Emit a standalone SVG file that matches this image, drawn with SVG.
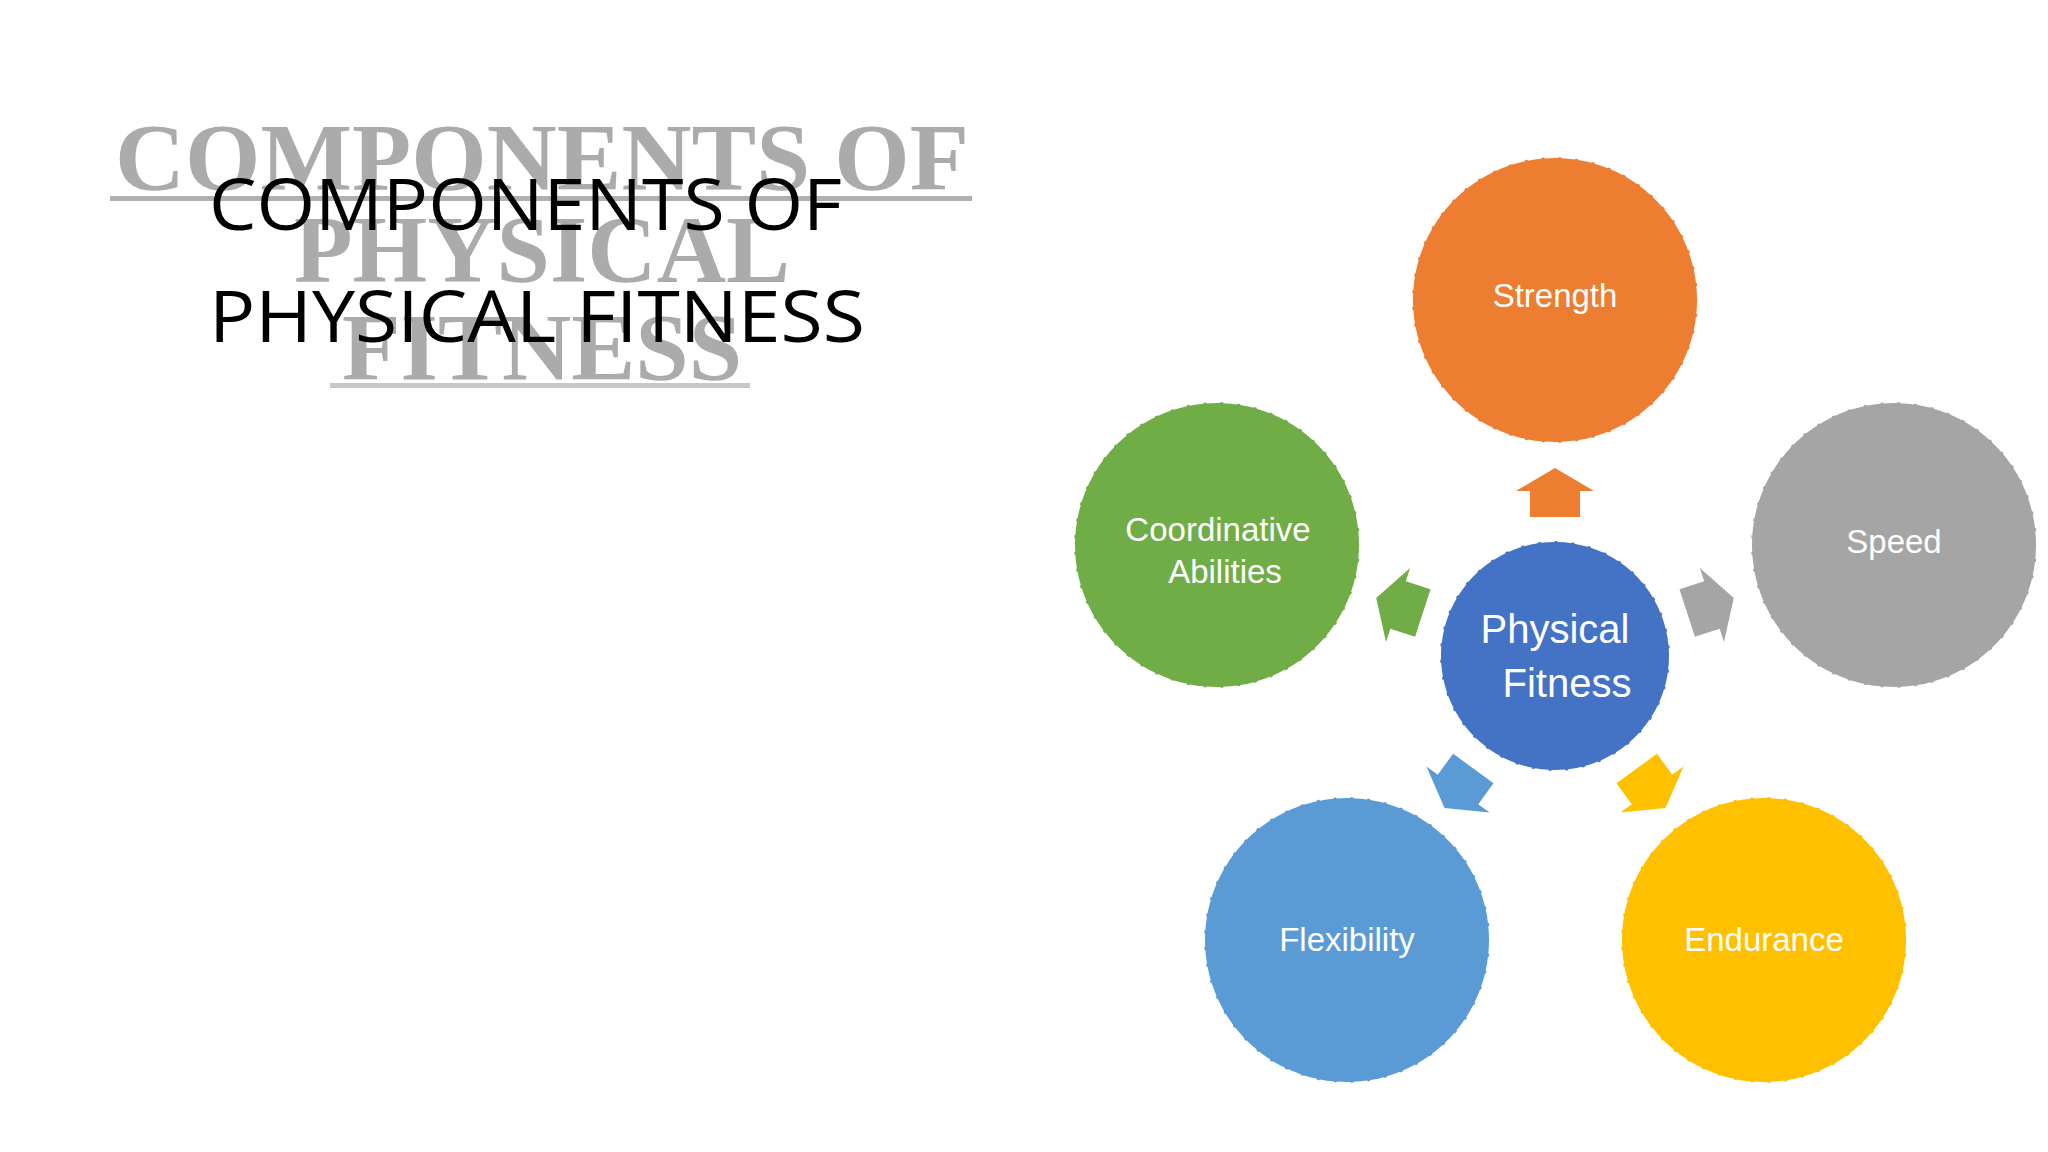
<svg xmlns="http://www.w3.org/2000/svg" xmlns:xlink="http://www.w3.org/1999/xlink" width="2048" height="1152" viewBox="0 0 2048 1152">
<style>
.c{stroke:#ffffff;stroke-width:2;stroke-dasharray:14 3}
.l{font-family:"Liberation Sans",Arial,sans-serif;font-size:33px;fill:#fff;text-anchor:middle}
.bg{font-family:"Liberation Serif","Times New Roman",serif;font-weight:bold;font-size:96px;fill:#ababab;text-anchor:middle}
.t{font-family:"Open Sans","Liberation Sans",sans-serif;font-size:72px;fill:#000}
</style>
<defs>
<path id="arr" d="M1555,468 L1594,491 L1580,491 L1580,517 L1530,517 L1530,491 L1516,491 Z"/>
</defs>
<rect width="2048" height="1152" fill="#fff"/>
<g id="title-bg">
<text class="bg" x="542" y="190" textLength="854" lengthAdjust="spacingAndGlyphs">COMPONENTS OF</text>
<text class="bg" x="542" y="282">PHYSICAL</text>
<text class="bg" x="542" y="380">FITNESS</text>
<rect x="110" y="196" width="862" height="5" fill="#b0b0b0"/>
<rect x="330" y="383" width="420" height="5" fill="#c8c8c8"/>
</g>
<g id="title">
<text class="t" x="209" y="230" textLength="633" lengthAdjust="spacingAndGlyphs">COMPONENTS OF</text>
<text class="t" x="209" y="342" textLength="656" lengthAdjust="spacingAndGlyphs">PHYSICAL  FITNESS</text>
</g>
<g id="connectors">
<use xlink:href="#arr" fill="#ED7D31"/>
<use xlink:href="#arr" fill="#A5A5A5" transform="rotate(72 1555 656)"/>
<use xlink:href="#arr" fill="#FFC000" transform="rotate(144 1555 656)"/>
<use xlink:href="#arr" fill="#5B9BD5" transform="rotate(216 1555 656)"/>
<use xlink:href="#arr" fill="#70AD47" transform="rotate(288 1555 656)"/>
</g>
<g id="center"><circle class="c" cx="1555" cy="656" r="115" fill="#4472C4"/>
<text class="l" style="font-size:40px" x="1555" y="643">Physical</text>
<text class="l" style="font-size:40px" x="1567" y="697">Fitness</text></g>
<g id="strength"><circle class="c" cx="1555" cy="300" r="143" fill="#ED7D31"/><text class="l" x="1555" y="307">Strength</text></g>
<g id="speed"><circle class="c" cx="1894" cy="545" r="143" fill="#A5A5A5"/><text class="l" x="1894" y="553">Speed</text></g>
<g id="endurance"><circle class="c" cx="1764" cy="940" r="143" fill="#FFC000"/><text class="l" x="1764" y="951">Endurance</text></g>
<g id="flexibility"><circle class="c" cx="1347" cy="940" r="143" fill="#5B9BD5"/><text class="l" x="1347" y="951">Flexibility</text></g>
<g id="coordinative"><circle class="c" cx="1217" cy="545" r="143" fill="#70AD47"/>
<text class="l" x="1218" y="541">Coordinative</text><text class="l" x="1225" y="583">Abilities</text></g>
</svg>
